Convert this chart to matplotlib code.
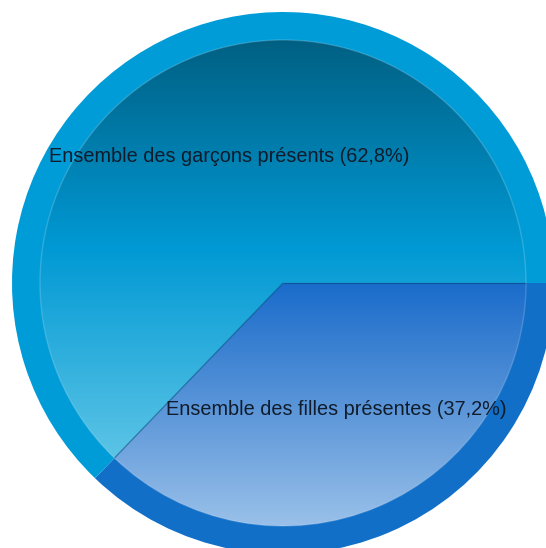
import numpy as np
import matplotlib
matplotlib.use("Agg")
import matplotlib.pyplot as plt
from matplotlib.colors import LinearSegmentedColormap

# Share of pupils present, by sex
NAMES = ["Ensemble des filles présentes", "Ensemble des garçons présents"]
SHARES = [37.2, 62.8]

RING_COLORS = ["#116fc8", "#009cd8"]
# top -> bottom colour stops of the inner gradient of each slice
GRADIENTS = [
    ["#1a6ccb", "#5a95d8", "#9cc2ea"],
    ["#005f82", "#0099d4", "#5cc4e6"],
]

W, H = 546, 548
CX, CY = 283, H - 283
R_OUT, R_IN = 271, 243

plt.rcParams["font.family"] = ["Liberation Sans", "DejaVu Sans"]

fig = plt.figure(figsize=(W / 100, H / 100), dpi=100)
ax = fig.add_axes([0, 0, 1, 1])

# outer ring
ax.pie(SHARES, colors=RING_COLORS, radius=R_OUT, center=(CX, CY),
       startangle=0, counterclock=False,
       wedgeprops=dict(linewidth=0))

# inner disc, one gradient per slice
labels = [f"{n} ({s:.1f}%)".replace(".", ",") for n, s in zip(NAMES, SHARES)]
wedges, texts = ax.pie(SHARES, labels=labels, radius=R_IN, center=(CX, CY),
                       startangle=0, counterclock=False,
                       labeldistance=137 / R_IN,
                       wedgeprops=dict(facecolor="none", edgecolor="none",
                                       zorder=3))

for w, stops in zip(wedges, GRADIENTS):
    path = w.get_path()
    verts = w.get_transform().transform(path.vertices)
    verts = ax.transData.inverted().transform(verts)
    y0, y1 = verts[:, 1].min(), verts[:, 1].max()
    cmap = LinearSegmentedColormap.from_list("g", stops[::-1])
    grad = np.linspace(0, 1, 256).reshape(-1, 1)
    im = ax.imshow(grad, cmap=cmap, origin="lower", aspect="auto",
                   extent=(CX - R_IN, CX + R_IN, y0, y1), zorder=2,
                   interpolation="bilinear")
    im.set_clip_path(w)

# thin darker line along the slice borders
for w in wedges:
    a = np.deg2rad(w.theta1)
    ax.plot([CX, CX + R_IN * np.cos(a)], [CY, CY + R_IN * np.sin(a)],
            color=(0.02, 0.25, 0.45, 0.5), lw=0.9, zorder=4,
            solid_capstyle="butt")

# faint light rim between the gradient and the ring
rim = plt.Circle((CX, CY), R_IN, fill=False, ec=(1, 1, 1, 0.18), lw=1.0,
                 zorder=4)
ax.add_patch(rim)

for t in texts:
    t.set_ha("center")
    t.set_va("center")
    t.set_fontsize(14.3)
    t.set_color("#101c2c")
    t.set_zorder(5)

ax.set_xlim(0, W)
ax.set_ylim(0, H)
ax.set_aspect("equal", adjustable="datalim")
ax.axis("off")

fig.savefig("out.png", dpi=100)
